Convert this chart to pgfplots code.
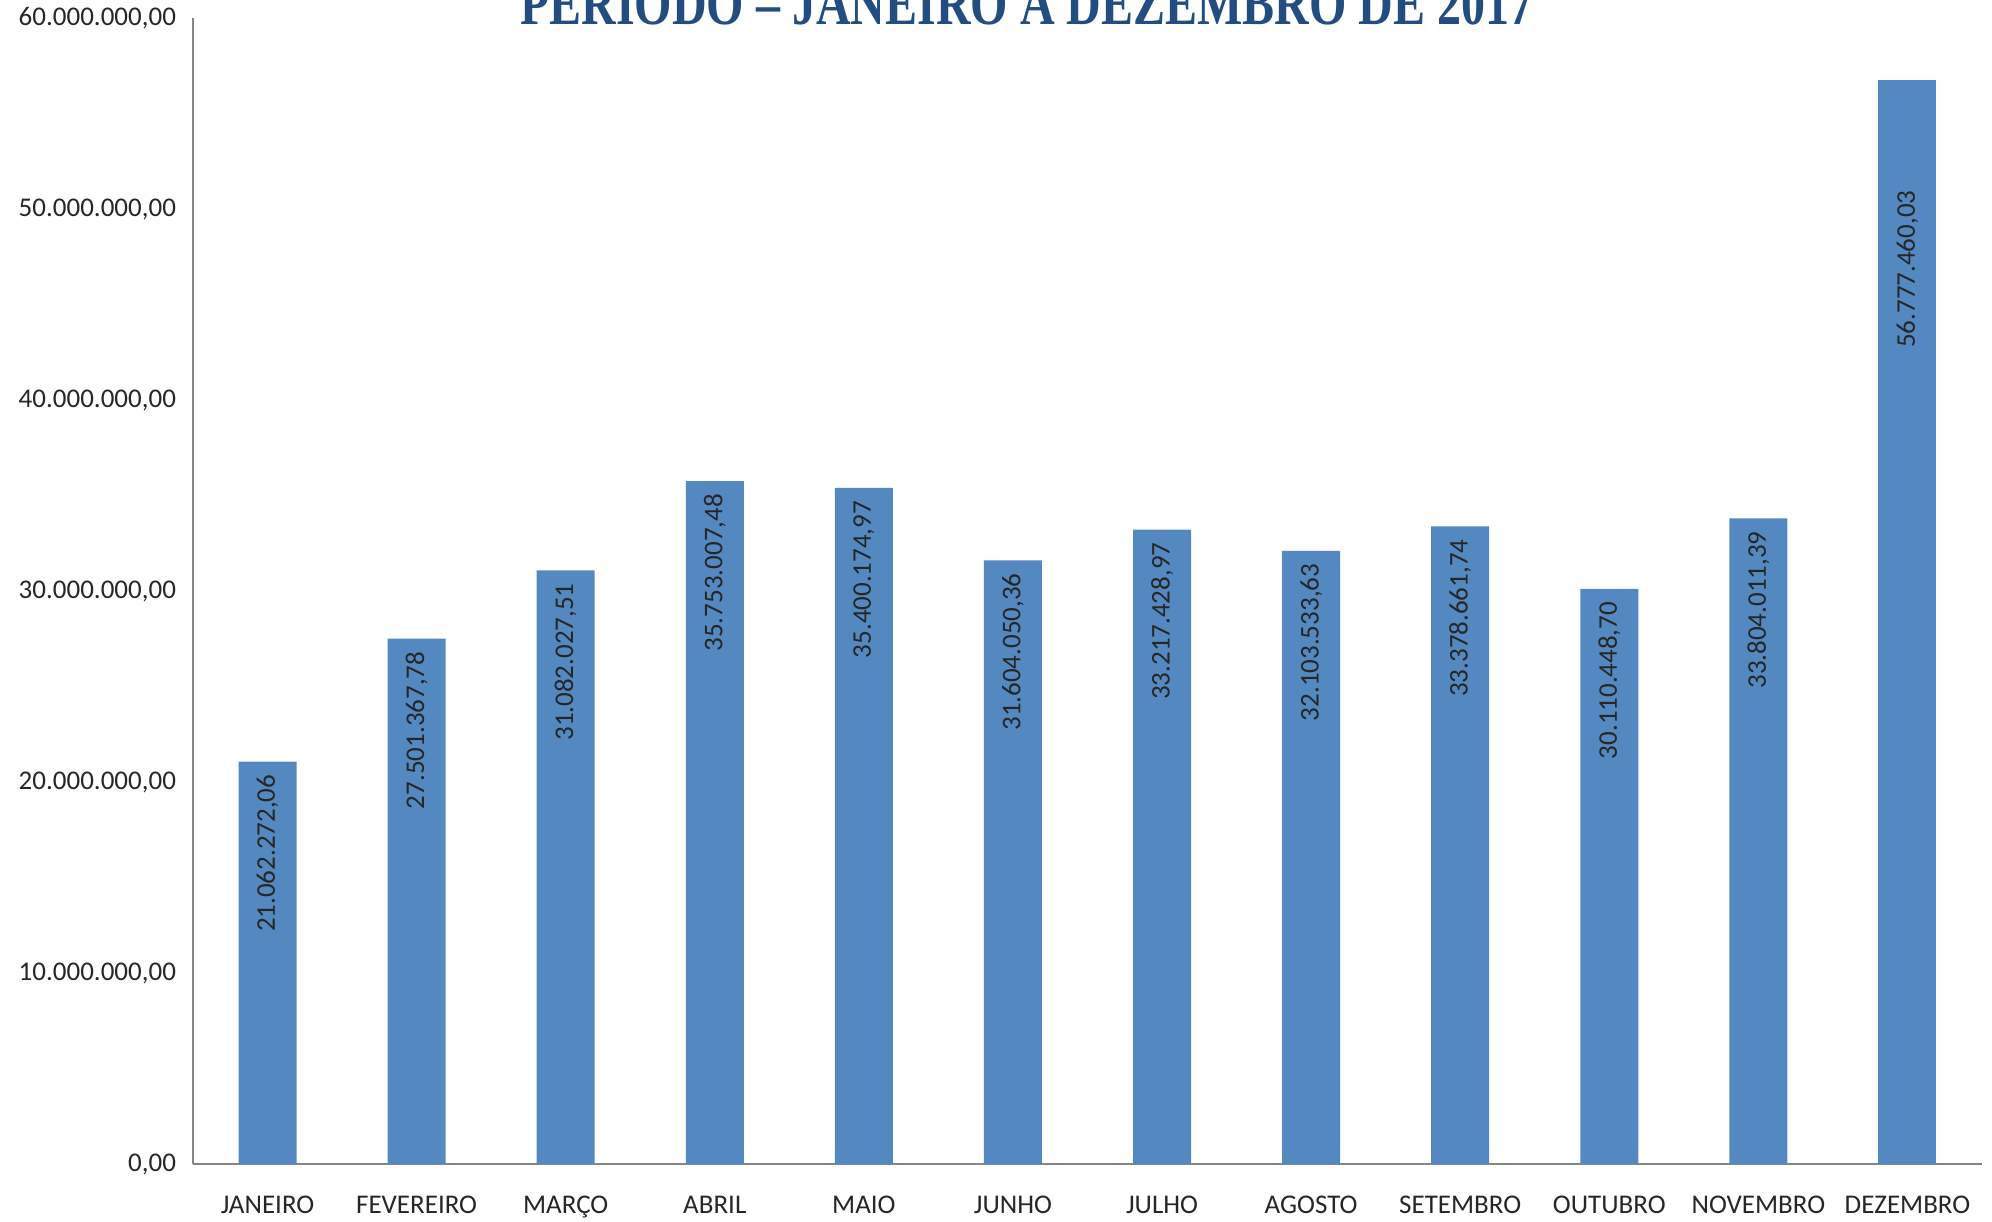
\documentclass[border=0pt]{standalone}
\usepackage{fontspec}
\setmainfont{Carlito}
\newfontfamily\titlefont{Liberation Serif}
\usepackage{pgfplots}
\pgfplotsset{compat=1.18}
\definecolor{barblue}{RGB}{84,136,193}
\definecolor{titleblue}{RGB}{35,76,128}
\definecolor{axisgray}{RGB}{134,134,134}
\definecolor{txt}{RGB}{38,38,38}

\pgfplotstableread{
x y lab
0 21062272.06 21.062.272,06
1 27501367.78 27.501.367,78
2 31082027.51 31.082.027,51
3 35753007.48 35.753.007,48
4 35400174.97 35.400.174,97
5 31604050.36 31.604.050,36
6 33217428.97 33.217.428,97
7 32103533.63 32.103.533,63
8 33378661.74 33.378.661,74
9 30110448.70 30.110.448,70
10 33804011.39 33.804.011,39
}\months
\pgfplotstableread{
x y lab
11 56777460.03 56.777.460,03
}\dezembro

\begin{document}
\begin{tikzpicture}
\begin{axis}[
  at={(0,0)}, anchor=south west,
  scale only axis, width=894.5pt, height=573pt,
  xmin=-0.5, xmax=11.5, ymin=0, ymax=60000000,
  axis x line*=bottom, axis y line*=left,
  axis line style={axisgray, line width=1pt, -},
  major tick length=0pt,
  xtick={0,...,11},
  xticklabels={JANEIRO,FEVEREIRO,MARÇO,ABRIL,MAIO,JUNHO,JULHO,AGOSTO,SETEMBRO,OUTUBRO,NOVEMBRO,DEZEMBRO},
  ytick={0,10000000,20000000,30000000,40000000,50000000,60000000},
  yticklabels={{0,00},{10.000.000,00},{20.000.000,00},{30.000.000,00},{40.000.000,00},{50.000.000,00},{60.000.000,00}},
  scaled y ticks=false,
  tick label style={font=\fontsize{13.5}{16}\selectfont, text=txt},
  xticklabel style={anchor=base, yshift=-24.5pt},
  yticklabel style={anchor=east, xshift=-5pt},
  nodes near coords,
  point meta=explicit symbolic,
  every node near coord/.append style={rotate=90, anchor=east, xshift=-3pt, font=\fontsize{13.5}{16}\selectfont, text=txt},
]
\addplot[ybar, bar width=29pt, fill=barblue, draw=none] table[x=x, y=y, meta=lab] {\months};
\addplot[ybar, bar width=29pt, fill=barblue, draw=none,
  every node near coord/.append style={xshift=-49pt}] table[x=x, y=y, meta=lab] {\dezembro};
\end{axis}
\node[anchor=base, text=titleblue, inner sep=0pt] at (417pt,569.5pt)
  {\scalebox{1}[1.3]{\titlefont\bfseries\fontsize{24}{28}\selectfont PERÍODO – JANEIRO A DEZEMBRO DE 2017}};
\pgfresetboundingbox
\useasboundingbox (-96.5pt,-28.5pt) rectangle (899.5pt,582pt);
\end{tikzpicture}
\end{document}
